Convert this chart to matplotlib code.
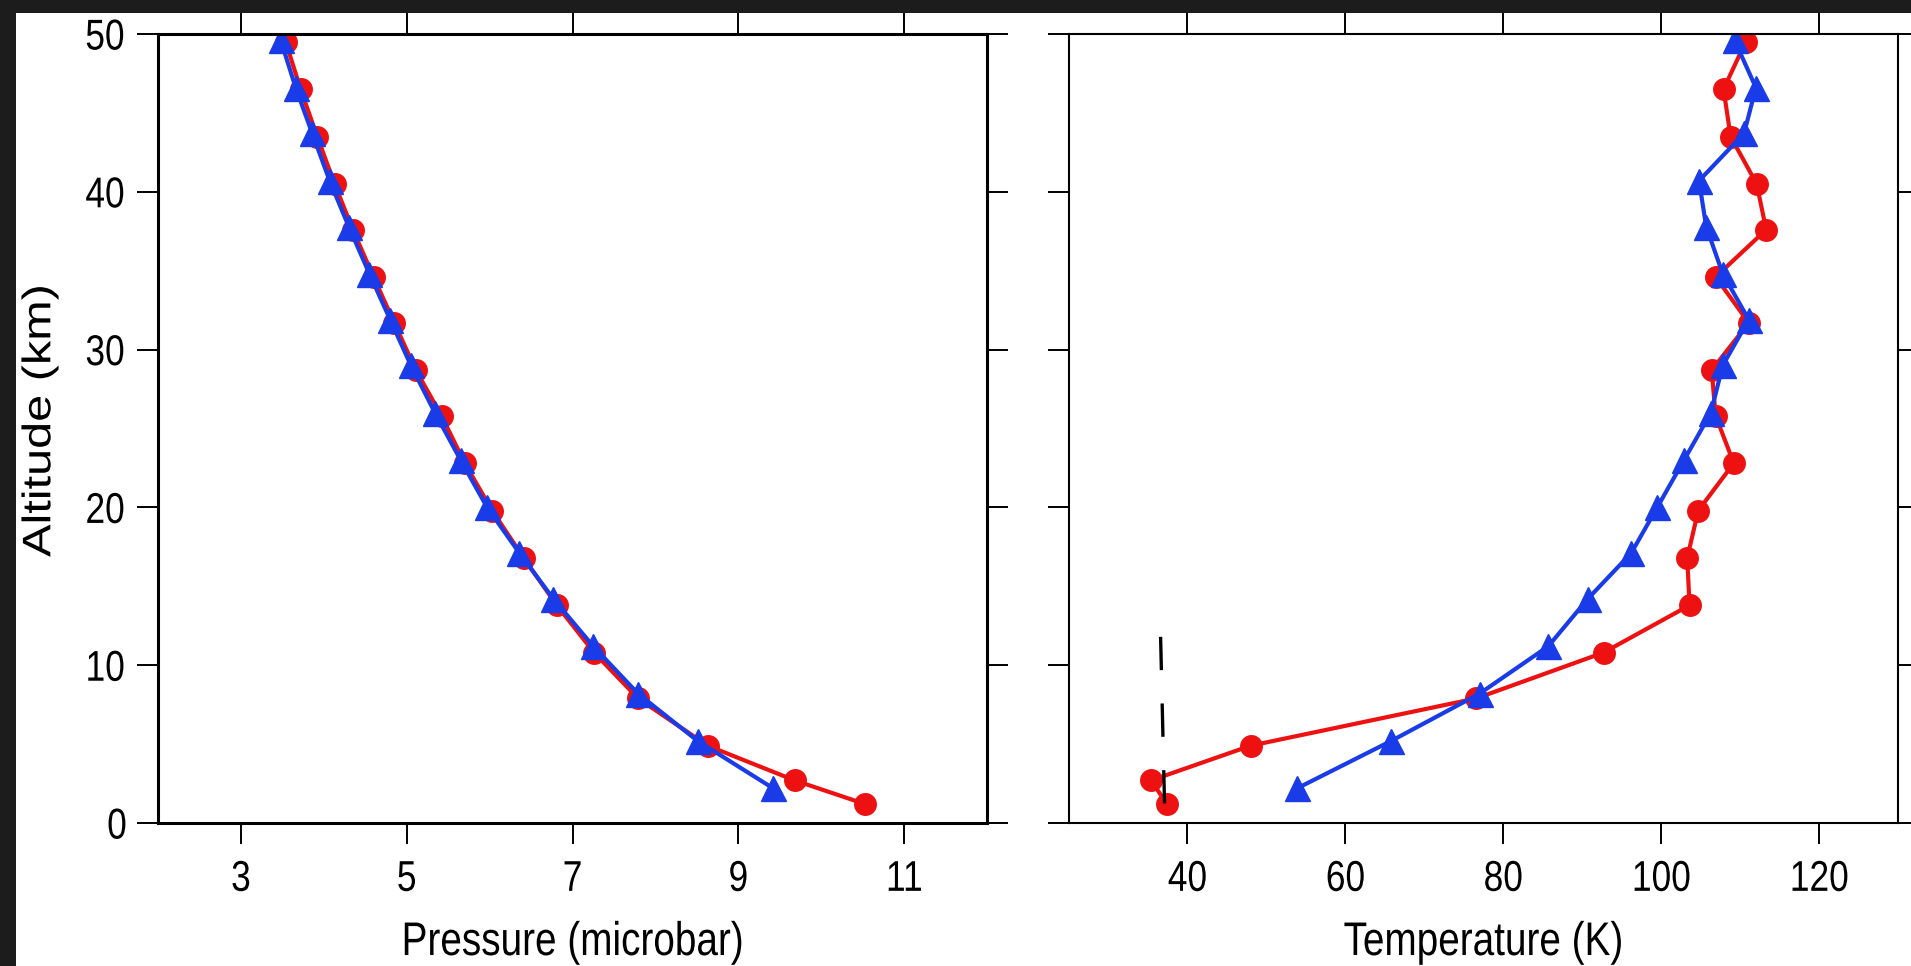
import numpy as np
import matplotlib
matplotlib.use('Agg')
import matplotlib.pyplot as plt
from matplotlib.patches import Rectangle
from matplotlib.patheffects import AbstractPathEffect
from matplotlib.transforms import Affine2D

plt.rcParams['font.family'] = ['Liberation Sans', 'DejaVu Sans']

#----------------------------Data----------------------------------------------#
# pressure profile (microbar) vs altitude (km)
red_p_alt = [1.2, 2.7, 4.9, 7.9, 10.8, 13.8, 16.8, 19.8, 22.8, 25.8, 28.7,
             31.7, 34.6, 37.6, 40.5, 43.5, 46.5, 49.5]
red_p = [10.53, 9.68, 8.63, 7.79, 7.26, 6.81, 6.41, 6.03, 5.70, 5.42, 5.11,
         4.85, 4.60, 4.35, 4.13, 3.92, 3.72, 3.54]
blue_p_alt = [2.2, 5.2, 8.2, 11.2, 14.2, 17.1, 20.0, 23.0, 26.0, 29.0, 31.9,
              34.8, 37.8, 40.7, 43.7, 46.6, 49.6]
blue_p = [9.42, 8.51, 7.79, 7.25, 6.77, 6.36, 5.97, 5.65, 5.34, 5.05, 4.80,
          4.55, 4.30, 4.07, 3.86, 3.66, 3.48]

# temperature profile (K) vs altitude (km)
red_t_alt = red_p_alt
red_t = [37.4, 35.4, 48.0, 76.6, 92.7, 103.6, 103.3, 104.7, 109.2, 106.9,
         106.4, 111.1, 106.9, 113.3, 112.1, 108.8, 107.9, 110.7]
blue_t_alt = blue_p_alt
blue_t = [53.9, 65.8, 77.0, 85.7, 90.7, 96.2, 99.5, 102.9, 106.3, 107.8,
          111.1, 107.8, 105.7, 104.8, 110.5, 112.0, 109.3]

# dashed reference segment
ref_t = [36.6, 37.1]
ref_alt = [11.8, 1.2]

p_ticks = [3, 5, 7, 9, 11]
t_ticks = [40, 60, 80, 100, 120]
alt_ticks = [0, 10, 20, 30, 40, 50]

#----------------------------Style---------------------------------------------#
RED = '#ee1111'
BLUE = '#1a3ce8'
TICK_FS = 31
LABEL_FS = 34


class Narrow(AbstractPathEffect):
    """Squeeze text horizontally about its own centre (narrow Helvetica look)."""

    def __init__(self, factor=0.82):
        super().__init__()
        self.factor = factor

    def draw_path(self, renderer, gc, tpath, affine, rgbFace=None):
        ext = tpath.get_extents(affine)
        cx = 0.5 * (ext.x0 + ext.x1)
        squeeze = Affine2D().translate(-cx, 0).scale(self.factor, 1).translate(cx, 0)
        renderer.draw_path(gc, tpath, affine + squeeze, rgbFace)


narrow = [Narrow()]

fig = plt.figure(figsize=(19.11, 9.66), dpi=100, facecolor='white')
ax1 = fig.add_axes([0.0827, 0.1480, 0.4338, 0.8168])
ax2 = fig.add_axes([0.5594, 0.1480, 0.4338, 0.8168])


def style_axes(ax, spine_w):
    for s in ax.spines.values():
        s.set_linewidth(spine_w)
    ax.tick_params(direction='out', length=15, width=1.4, labelsize=TICK_FS,
                   top=True, right=True, bottom=True, left=True)
    ax.tick_params(axis='x', pad=11.5)
    ax.tick_params(axis='y', pad=6)
    ax.set_ylim(0, 50)
    ax.set_yticks(alt_ticks)
    for lab in ax.get_xticklabels() + ax.get_yticklabels():
        lab.set_path_effects(narrow)


# left: pressure
ax1.plot(red_p, red_p_alt, '-o', color=RED, lw=3.0, ms=15.5, mec=RED)
ax1.plot(blue_p, blue_p_alt, '-^', color=BLUE, lw=3.0, ms=18, mec=BLUE)
ax1.set_xlim(2, 12)
ax1.set_xticks(p_ticks)
style_axes(ax1, 2.2)
ax1.set_xlabel('Pressure (microbar)', fontsize=LABEL_FS, va='baseline',
               path_effects=narrow)
ax1.xaxis.set_label_coords(0.5, -0.1673)
ax1.set_ylabel('Altitude (km)', fontsize=35, va='center', path_effects=narrow)
ax1.yaxis.set_label_coords(-0.1423, 0.51)

# right: temperature
ax2.plot(red_t, red_t_alt, '-o', color=RED, lw=3.0, ms=15.5, mec=RED)
ax2.plot(blue_t, blue_t_alt, '-^', color=BLUE, lw=3.0, ms=18, mec=BLUE)
ax2.plot(ref_t, ref_alt, color='black', lw=2.4, dashes=[10, 10])
ax2.set_xlim(25, 130)
ax2.set_xticks(t_ticks)
style_axes(ax2, 1.5)
ax2.tick_params(labelleft=False)
ax2.set_xlabel('Temperature (K)', fontsize=LABEL_FS, va='baseline',
               path_effects=narrow)
ax2.xaxis.set_label_coords(0.5, -0.1673)

# dark border of the screenshot
dark = '#1c1c1c'
fig.add_artist(Rectangle((0, 953 / 966), 1, 13 / 966, transform=fig.transFigure,
                         facecolor=dark, edgecolor='none', zorder=10))
fig.add_artist(Rectangle((0, 0), 16 / 1911, 1, transform=fig.transFigure,
                         facecolor=dark, edgecolor='none', zorder=10))

fig.savefig('out.png', dpi=100)
